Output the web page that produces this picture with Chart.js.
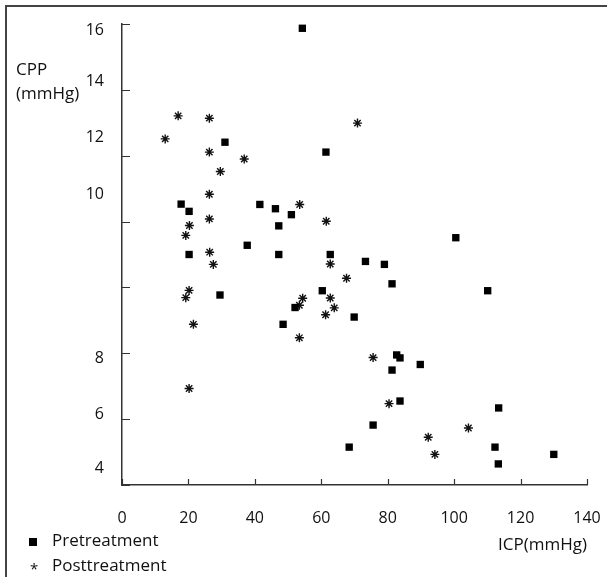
<!DOCTYPE html>
<html>
<head>
<meta charset="utf-8">
<script src="https://cdn.jsdelivr.net/npm/chart.js@4/dist/chart.umd.min.js"></script>
<style>
  html, body { margin: 0; padding: 0; background: #fff; }
  #wrap { position: relative; width: 607px; height: 577px; overflow: hidden; font-family: "Open Sans", sans-serif; color: #111; }
  #frame { position: absolute; left: 5px; top: 5px; width: 700px; height: 700px; border-top: 2px solid #444; border-left: 2px solid #444; }
  #graph { position: absolute; left: 0; top: 0; }
  #ytitle { position: absolute; left: 16px; top: 57px; font-size: 17px; line-height: 24px; }
  #legend { position: absolute; left: 27px; top: 527px; font-size: 17px; line-height: 25px; }
  #legend .row { white-space: nowrap; }
  #legend .mark { display: inline-block; width: 25px; text-align: left; }
  #legend .sq { display: inline-block; width: 8px; height: 8px; background: #000; margin-left: 2px; }
  #legend .st { display: inline-block; margin-left: 3px; position: relative; top: 3px; font-size: 15px; }
</style>
</head>
<body>
<div id="wrap">
  <div id="frame"></div>
  <canvas id="graph" width="607" height="577"></canvas>
  <div id="ytitle">CPP<br>(mmHg)</div>
  <div id="legend"></div>
</div>
<script>
// ICP (x) and CPP (y) readings, pretreatment
const icpPre = [54.3, 31.0, 61.4, 17.8, 20.2, 41.5, 46.2, 51.0, 47.2, 37.7, 20.2, 47.2, 62.7, 73.3, 79.0, 81.3, 60.3,
  29.5, 52.1, 48.5, 69.9, 100.5, 110.1, 82.7, 83.7, 81.3, 89.8, 83.7, 113.4, 75.6, 68.4, 112.3, 130.0, 113.3];
const cppPre = [17.87, 14.41, 14.11, 12.53, 12.31, 12.52, 12.39, 12.21, 11.87, 11.28, 11.0, 11.0, 11.0, 10.79, 10.70, 10.11, 9.90,
  9.77, 9.39, 8.88, 9.10, 11.51, 9.90, 7.95, 7.86, 7.49, 7.66, 6.55, 6.34, 5.82, 5.15, 5.15, 4.93, 4.64];

// posttreatment
const icpPost = [13.0, 16.9, 26.3, 26.3, 36.8, 29.6, 26.3, 26.3, 20.3, 19.2, 26.4, 27.5, 20.2, 19.2, 21.5, 20.2,
  53.5, 61.5, 70.9, 62.7, 67.6, 54.4, 53.4, 62.7, 63.9, 61.3, 53.4, 75.6, 80.4, 92.2, 104.3, 94.2];
const cppPost = [14.51, 15.21, 15.14, 14.11, 13.90, 13.52, 12.83, 12.08, 11.88, 11.58, 11.07, 10.70, 9.91, 9.69, 8.88, 6.93,
  12.52, 12.01, 14.99, 10.71, 10.28, 9.67, 9.46, 9.68, 9.38, 9.17, 8.47, 7.87, 6.47, 5.45, 5.73, 4.93];

// y axis: printed labels and the value each one sits at
const yTickLabels = ['4', '6', '8', '10', '12', '14', '16'];
const yLabelAt = [4.49, 6.13, 7.83, 12.81, 14.56, 16.25, 17.81];

const font = {family: '"Open Sans", sans-serif', size: 16};

// tick marks pointing into the plot
const inwardTicks = {
  id: 'inwardTicks',
  afterDraw(chart) {
    const {ctx, chartArea: a, scales: {x, y}} = chart;
    ctx.save();
    ctx.strokeStyle = '#333';
    ctx.lineWidth = 1.2;
    ctx.beginPath();
    x.ticks.forEach(t => {
      const px = Math.round(x.getPixelForValue(t.value)) + 0.5;
      ctx.moveTo(px, a.bottom);
      ctx.lineTo(px, a.bottom - 6);
    });
    y.ticks.forEach(t => {
      const py = Math.round(y.getPixelForValue(t.value)) + 0.5;
      ctx.moveTo(a.left, py);
      ctx.lineTo(a.left + 8, py);
    });
    ctx.stroke();
    ctx.restore();
  }
};

const chart = new Chart(document.getElementById('graph'), {
  type: 'scatter',
  plugins: [inwardTicks],
  data: {
    datasets: [
      {
        label: 'Pretreatment',
        data: icpPre.map((v, i) => ({x: v, y: cppPre[i]})),
        pointStyle: 'rect',
        pointRadius: 5.2,
        backgroundColor: '#000',
        borderColor: '#000',
        borderWidth: 0
      },
      {
        label: 'Posttreatment',
        data: icpPost.map((v, i) => ({x: v, y: cppPost[i]})),
        pointStyle: 'star',
        pointRadius: 4.5,
        borderColor: '#111',
        borderWidth: 1.4
      }
    ]
  },
  options: {
    responsive: false,
    animation: false,
    events: [],
    layout: {padding: {left: 17, right: 20, top: 24, bottom: 22}},
    plugins: {legend: {display: false}, tooltip: {enabled: false}},
    scales: {
      x: {
        type: 'linear',
        position: 'bottom',
        min: 0,
        max: 140,
        ticks: {stepSize: 20, padding: 16, color: '#111', font: font},
        grid: {display: false},
        border: {color: '#333', width: 1.5},
        title: {display: true, text: 'ICP(mmHg)', align: 'end', color: '#111',
          font: {family: font.family, size: 17}, padding: 0},
        afterFit: s => { s.height = 70; s.paddingRight = 0; }
      },
      y: {
        type: 'linear',
        position: 'left',
        min: 4,
        max: 18,
        ticks: {stepSize: 2, display: false},
        grid: {display: false},
        border: {color: '#333', width: 1.5},
        afterFit: s => { s.width = 0; }
      },
      yl: {
        type: 'linear',
        position: 'left',
        min: 4,
        max: 18,
        afterBuildTicks: s => { s.ticks = yLabelAt.map(v => ({value: v})); },
        ticks: {autoSkip: false, padding: 10, color: '#111', font: font,
          callback: (v, i) => yTickLabels[i]},
        grid: {display: false},
        border: {display: false},
        afterFit: s => { s.width = 105; }
      }
    }
  }
});

// html legend from the datasets
const legend = document.getElementById('legend');
chart.data.datasets.forEach(ds => {
  const row = document.createElement('div');
  row.className = 'row';
  const mark = document.createElement('span');
  mark.className = 'mark';
  mark.innerHTML = ds.pointStyle === 'rect' ? '<span class="sq"></span>' : '<span class="st">*</span>';
  row.appendChild(mark);
  row.appendChild(document.createTextNode(ds.label));
  legend.appendChild(row);
});
</script>
</body>
</html>
